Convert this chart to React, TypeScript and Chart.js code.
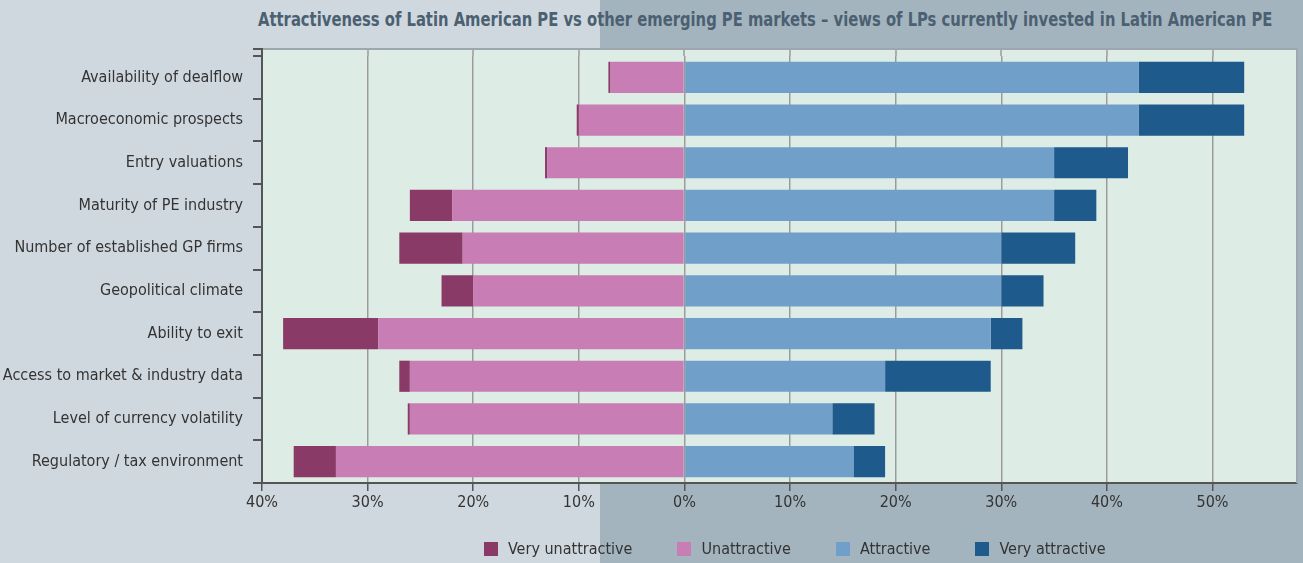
import React, { useEffect, useRef } from "react";
import { Chart, registerables } from "chart.js";

Chart.register(...registerables);

const title =
  "Attractiveness of Latin American PE vs other emerging PE markets – views of LPs currently invested in Latin American PE";

const categories = [
  "Availability of dealflow",
  "Macroeconomic prospects",
  "Entry valuations",
  "Maturity of PE industry",
  "Number of established GP firms",
  "Geopolitical climate",
  "Ability to exit",
  "Access to market & industry data",
  "Level of currency volatility",
  "Regulatory / tax environment",
];

// percentages of respondents
const veryUnattractive = [0.2, 0.2, 0.2, 4, 6, 3, 9, 1, 0.2, 4];
const unattractive = [7, 10, 13, 22, 21, 20, 29, 26, 26, 33];
const attractive = [43, 43, 35, 35, 30, 30, 29, 19, 14, 16];
const veryAttractive = [10, 10, 7, 4, 7, 4, 3, 10, 4, 3];

const xTickValues = [-40, -30, -20, -10, 0, 10, 20, 30, 40, 50];

const seriesNames = ["Very unattractive", "Unattractive", "Attractive", "Very attractive"];
const seriesColors = ["#8a3a66", "#c87db4", "#709fca", "#1f5a8d"];

const FONT = "'DejaVu Sans Condensed', 'Liberation Sans', sans-serif";
const TOP_STRIP = 6;

const bgPlugin = {
  id: "plotBg",
  beforeDraw(chart: any) {
    const { ctx, chartArea: a } = chart;
    ctx.save();
    ctx.fillStyle = "#deece6";
    ctx.fillRect(a.left, a.top - TOP_STRIP, a.right - a.left, a.bottom - a.top + TOP_STRIP);
    // extend vertical gridlines into the strip above the bars
    const xs = chart.scales.x;
    ctx.strokeStyle = "#9b9b9b";
    ctx.lineWidth = 1.5;
    ctx.beginPath();
    xTickValues.forEach((v) => {
      const px = Math.round(xs.getPixelForValue(v));
      if (v === -40) return;
      ctx.moveTo(px, a.top - TOP_STRIP);
      ctx.lineTo(px, a.top);
    });
    ctx.stroke();
    ctx.restore();
  },
  afterDraw(chart: any) {
    const { ctx, chartArea: a } = chart;
    ctx.save();
    ctx.strokeStyle = "#9ea7ad";
    ctx.lineWidth = 2;
    ctx.beginPath();
    ctx.moveTo(a.left, a.top - TOP_STRIP - 1);
    ctx.lineTo(a.right, a.top - TOP_STRIP - 1);
    ctx.moveTo(a.right, a.top - TOP_STRIP - 1);
    ctx.lineTo(a.right, a.bottom);
    ctx.stroke();
    // left axis continues through the strip
    ctx.strokeStyle = "#555";
    ctx.beginPath();
    ctx.moveTo(a.left, a.top - TOP_STRIP - 2);
    ctx.lineTo(a.left, a.top);
    ctx.moveTo(a.left - 9, a.top - TOP_STRIP - 1);
    ctx.lineTo(a.left, a.top - TOP_STRIP - 1);
    ctx.stroke();
    ctx.restore();
  },
};

export default function App() {
  const canvasRef = useRef<HTMLCanvasElement>(null);
  const titleRef = useRef<HTMLSpanElement>(null);

  useEffect(() => {
    document.body.style.margin = "0";
    const t = titleRef.current;
    if (t) {
      const w = t.offsetWidth;
      if (w > 0) t.style.transform = `scaleX(${1014 / w})`;
    }
    const canvas = canvasRef.current;
    if (!canvas) return;
    const chart = new Chart(canvas, {
      type: "bar",
      data: {
        labels: categories,
        datasets: [
          { label: seriesNames[1], data: unattractive.map((v) => -v), backgroundColor: seriesColors[1] },
          { label: seriesNames[0], data: veryUnattractive.map((v) => -v), backgroundColor: seriesColors[0] },
          { label: seriesNames[2], data: attractive, backgroundColor: seriesColors[2] },
          { label: seriesNames[3], data: veryAttractive, backgroundColor: seriesColors[3] },
        ],
      },
      options: {
        indexAxis: "y",
        animation: false,
        responsive: false,
        devicePixelRatio: 1,
        datasets: { bar: { barPercentage: 0.73, categoryPercentage: 1, borderWidth: 0 } } as any,
        layout: { padding: { top: 50 + TOP_STRIP, right: 6, bottom: 40, left: 0 } },
        plugins: {
          legend: { display: false },
          tooltip: { enabled: false },
          title: { display: false },
        },
        scales: {
          x: {
            stacked: true,
            min: -40,
            max: 58,
            afterBuildTicks: (s: any) => {
              s.ticks = xTickValues.map((v) => ({ value: v }));
            },
            afterFit: (s: any) => {
              s.height = 40;
            },
            grid: { color: "#9b9b9b", lineWidth: 1.5, tickColor: "#555", tickLength: 8 },
            border: { color: "#555", width: 2 },
            ticks: {
              callback: (v: any) => Math.abs(Number(v)) + "%",
              font: { family: FONT, size: 16 },
              color: "#333",
              padding: 2,
              maxRotation: 0,
              autoSkip: false,
            },
          },
          y: {
            stacked: true,
            afterFit: (s: any) => {
              s.width = 262;
            },
            grid: { drawOnChartArea: false, tickLength: 9, color: "#555", lineWidth: 2 },
            border: { color: "#555", width: 2 },
            ticks: { font: { family: FONT, size: 16 }, color: "#333", padding: 10, autoSkip: false },
          },
        },
      } as any,
      plugins: [bgPlugin],
    });
    return () => chart.destroy();
  }, []);

  const legendOrder = [0, 1, 2, 3];

  return (
    <div
      style={{
        position: "absolute",
        left: 0,
        top: 0,
        width: 1303,
        height: 563,
        overflow: "hidden",
        background: "linear-gradient(to right, #d0d8df 0px, #d0d8df 600px, #a4b4bf 600px, #a4b4bf 1303px)",
      }}
    >
      <div style={{ position: "absolute", left: 258, top: 7, whiteSpace: "nowrap" }}>
        <span
          ref={titleRef}
          style={{
            display: "inline-block",
            transformOrigin: "left top",
            fontFamily: FONT,
            fontWeight: "bold",
            fontSize: 20,
            lineHeight: "24px",
            color: "#4b6071",
          }}
        >
          {title}
        </span>
      </div>
      <canvas ref={canvasRef} width={1303} height={563} style={{ position: "absolute", left: 0, top: 0 }} />
      <div
        style={{
          position: "absolute",
          left: 484,
          top: 539,
          display: "flex",
          alignItems: "center",
          fontFamily: FONT,
          fontSize: 16,
          color: "#333",
          whiteSpace: "nowrap",
        }}
      >
        {legendOrder.map((i, k) => (
          <div key={i} style={{ display: "flex", alignItems: "center", marginLeft: k === 0 ? 0 : 45 }}>
            <span style={{ display: "inline-block", width: 14, height: 14, background: seriesColors[i], marginRight: 10 }} />
            <span>{seriesNames[i]}</span>
          </div>
        ))}
      </div>
    </div>
  );
}
